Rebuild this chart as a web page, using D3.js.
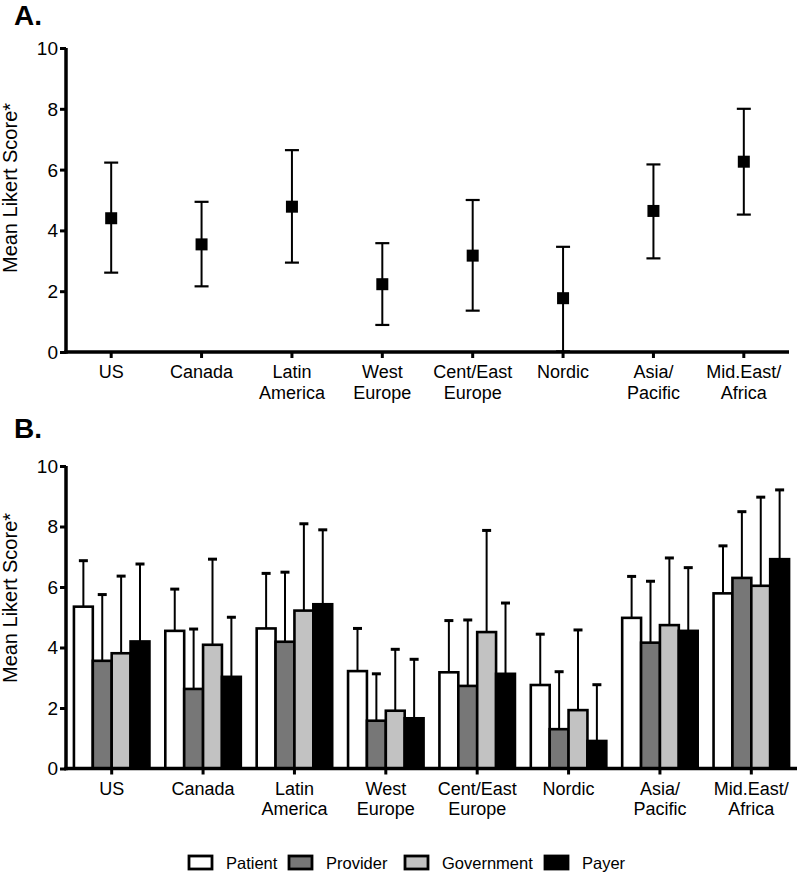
<!DOCTYPE html>
<html><head><meta charset="utf-8">
<script src="https://cdn.jsdelivr.net/npm/d3@7/dist/d3.min.js"></script>
<style>body{margin:0;background:#fff}svg{display:block}text{font-family:"Liberation Sans",Arial,sans-serif}</style>
</head><body>
<svg id="c" width="800" height="872"></svg>
<script>
const categories = ["US","Canada","Latin\nAmerica","West\nEurope","Cent/East\nEurope","Nordic","Asia/\nPacific","Mid.East/\nAfrica"];
const yTicks = [0,2,4,6,8,10];
// Panel A: overall mean and error (upper/lower)
const meanA  = [4.40, 3.54, 4.78, 2.23, 3.17, 1.77, 4.64, 6.26];
const upperA = [6.23, 4.94, 6.64, 3.58, 5.00, 3.46, 6.17, 8.00];
const lowerA = [2.61, 2.16, 2.94, 0.89, 1.36, 0.02, 3.08, 4.52];
// Panel B: by stakeholder
const series = ["Patient","Provider","Government","Payer"];
const patient    = [5.35, 4.55, 4.63, 3.22, 3.18, 2.76, 4.98, 5.79];
const provider   = [3.56, 2.63, 4.19, 1.58, 2.73, 1.30, 4.16, 6.30];
const government = [3.81, 4.09, 5.22, 1.91, 4.51, 1.93, 4.74, 6.04];
const payer      = [4.20, 3.03, 5.43, 1.66, 3.13, 0.91, 4.55, 6.92];
const patientErr    = [6.87, 5.93, 6.45, 4.63, 4.89, 4.44, 6.35, 7.36];
const providerErr   = [5.75, 4.61, 6.49, 3.13, 4.91, 3.20, 6.19, 8.49];
const governmentErr = [6.36, 6.92, 8.09, 3.94, 7.87, 4.58, 6.96, 8.97];
const payerErr      = [6.76, 5.00, 7.89, 3.61, 5.47, 2.77, 6.64, 9.21];
const colors = ["#ffffff","#777777","#c2c2c2","#000000"];

const valuesB = [patient, provider, government, payer];
const errsB = [patientErr, providerErr, governmentErr, payerErr];
const FONT = '"Liberation Sans", Arial, sans-serif';

const svg = d3.select("#c");

function drawAxes(g, x, y, xRange, y0) {
  const ya = g.append("g").attr("transform","translate("+xRange[0]+",0)")
    .call(d3.axisLeft(y).tickValues(yTicks).tickSize(6).tickPadding(2).tickFormat(d3.format("d")));
  ya.attr("font-family",FONT);
  ya.select(".domain").attr("d","M0,"+(y.range()[0]+1.75)+"V"+y.range()[1]).attr("stroke","#000").attr("stroke-width",3.5);
  ya.selectAll(".tick line").attr("stroke-width",3);
  ya.selectAll("text").attr("font-size",19).attr("fill","#000").attr("dy","0.34em");
  const xa = g.append("g").attr("transform","translate(0,"+y0+")")
    .call(d3.axisBottom(x).tickSize(6).tickPadding(8).tickFormat(""));
  xa.attr("font-family",FONT);
  xa.select(".domain").attr("d","M"+(xRange[0]-1.75)+",0H"+xRange[1]).attr("stroke","#000").attr("stroke-width",3.5);
  xa.selectAll(".tick line").attr("stroke-width",3);
  xa.selectAll(".tick").each(function(d){
    const lines = d.split("\n");
    const t = d3.select(this).append("text").attr("fill","#000").attr("font-size",18)
      .attr("text-anchor","middle").attr("y",26);
    lines.forEach((l,i)=>t.append("tspan").attr("x",0).attr("dy",i===0?0:20.5).text(l));
  });
}

// ---------- Panel A ----------
{
  const x = d3.scaleBand().domain(categories).range([66,789]);
  const y = d3.scaleLinear().domain([0,10]).range([352,48]);
  const g = svg.append("g");
  svg.append("text").attr("x",14).attr("y",25).attr("font-size",28).attr("font-weight","bold").text("A.");
  svg.append("text").attr("transform","translate(17,188) rotate(-90)").attr("text-anchor","middle")
    .attr("font-size",20).text("Mean Likert Score*");
  drawAxes(g, x, y, [66,789], 352);
  const data = categories.map((c,i)=>({c, m:meanA[i], u:upperA[i], l:lowerA[i]}));
  const eb = g.append("g").selectAll("g").data(data).join("g")
    .attr("transform", d=>"translate("+(x(d.c)+x.bandwidth()/2)+",0)");
  eb.append("line").attr("y1",d=>y(d.l)).attr("y2",d=>y(d.u)).attr("stroke","#000").attr("stroke-width",2);
  eb.append("line").attr("x1",-7).attr("x2",7).attr("y1",d=>y(d.u)).attr("y2",d=>y(d.u)).attr("stroke","#000").attr("stroke-width",2.2);
  eb.append("line").attr("x1",-7).attr("x2",7).attr("y1",d=>y(d.l)).attr("y2",d=>y(d.l)).attr("stroke","#000").attr("stroke-width",2.2);
  eb.append("rect").attr("x",-6).attr("width",12).attr("height",12).attr("y",d=>y(d.m)-6).attr("fill","#000");
}

// ---------- Panel B ----------
{
  const x0 = d3.scaleBand().domain(categories).range([66,797]);
  const x1 = d3.scaleBand().domain(series).range([0,x0.bandwidth()]).paddingOuter(0.42);
  const y = d3.scaleLinear().domain([0,10]).range([768.5,466]);
  const g = svg.append("g");
  svg.append("text").attr("x",14).attr("y",438).attr("font-size",28).attr("font-weight","bold").text("B.");
  svg.append("text").attr("transform","translate(17,598) rotate(-90)").attr("text-anchor","middle")
    .attr("font-size",20).text("Mean Likert Score*");
  const rows = [];
  categories.forEach((c,i)=>series.forEach((s,j)=>rows.push({c,s,j,v:valuesB[j][i],e:errsB[j][i]})));
  const grp = g.append("g").selectAll("g").data(rows).join("g")
    .attr("transform", d=>"translate("+(x0(d.c)+x1(d.s))+",0)");
  const bw = x1.bandwidth();
  grp.append("line").attr("x1",bw/2).attr("x2",bw/2).attr("y1",d=>y(d.v)).attr("y2",d=>y(d.e))
    .attr("stroke","#000").attr("stroke-width",2);
  grp.append("line").attr("x1",bw/2-4.5).attr("x2",bw/2+4.5).attr("y1",d=>y(d.e)).attr("y2",d=>y(d.e))
    .attr("stroke","#000").attr("stroke-width",3);
  grp.append("rect").attr("x",0).attr("width",bw).attr("y",d=>y(d.v)).attr("height",d=>y(0)-y(d.v))
    .attr("fill",d=>colors[d.j]).attr("stroke","#000").attr("stroke-width",2.6);
  drawAxes(g, x0, y, [66,797], 768.5);

  // legend
  const legX = [189, 289, 405, 545];
  const lg = svg.append("g").selectAll("g").data(series).join("g")
    .attr("transform",(d,i)=>"translate("+legX[i]+",856)");
  lg.append("rect").attr("width",23).attr("height",13).attr("fill",(d,i)=>colors[i]).attr("stroke","#000").attr("stroke-width",2.8);
  lg.append("text").attr("x",37).attr("y",12.5).attr("font-size",16.5).text(d=>d);
}
</script>
</body></html>
